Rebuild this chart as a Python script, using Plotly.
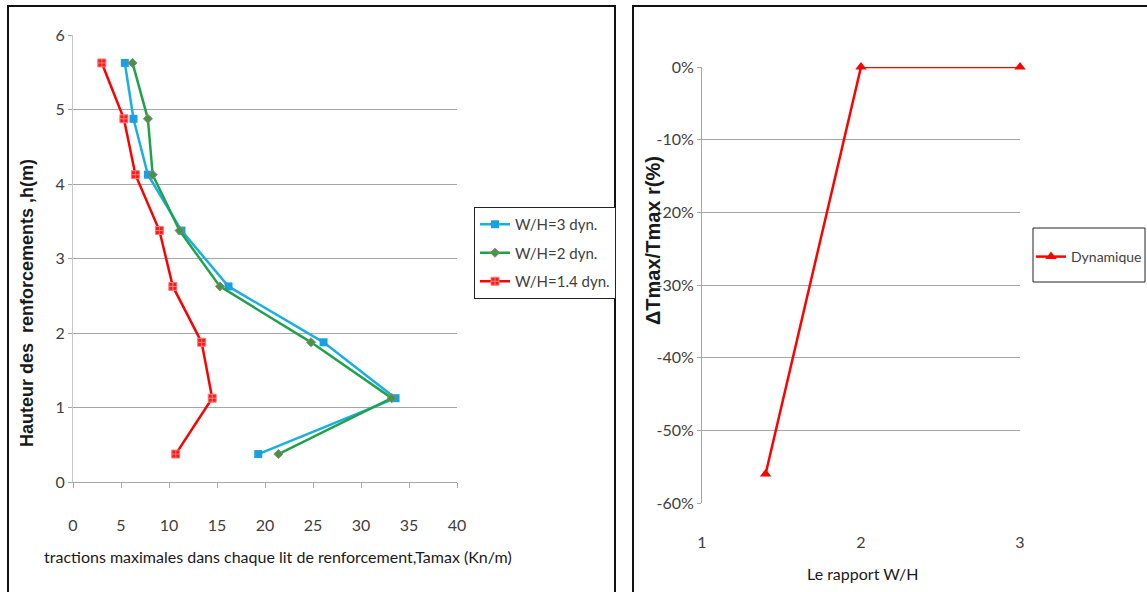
import plotly.graph_objects as go

W, H = 1147, 592

# ---- Data (left chart) ----
heights = [5.625, 4.875, 4.125, 3.375, 2.625, 1.875, 1.125, 0.375]
t_wh3 = [5.4, 6.3, 7.8, 11.3, 16.2, 26.1, 33.6, 19.3]
t_wh2 = [6.2, 7.8, 8.3, 11.1, 15.3, 24.8, 33.2, 21.4]
t_wh14 = [3.0, 5.3, 6.5, 9.0, 10.4, 13.4, 14.5, 10.7]
series_names = ["W/H=3 dyn.", "W/H=2 dyn.", "W/H=1.4 dyn."]
left_xticks = [0, 5, 10, 15, 20, 25, 30, 35, 40]
left_yticks = [0, 1, 2, 3, 4, 5, 6]

# ---- Data (right chart) ----
ratio_wh = [1.4, 2, 3]
delta_t = [-0.56, 0.0, 0.0]
right_xticks = [1, 2, 3]
right_yticks = [0.0, -0.1, -0.2, -0.3, -0.4, -0.5, -0.6]
right_yticktext = ["0%", "-10%", "-20%", "-30%", "-40%", "-50%", "-60%"]

NARROW = "Lato, Roboto, sans-serif"
BOLD = "Liberation Sans, Arial, sans-serif"
TXT = "#404040"
GRID = "#a6a6a6"

def px(x):
    return x / W

def py(y):
    return 1 - y / H

fig = go.Figure()

fig.add_trace(go.Scatter(
    x=t_wh3, y=heights, name=series_names[0], mode="lines+markers",
    line=dict(color="#1aaee8", width=2.5),
    marker=dict(symbol="square", size=8, color="#1aa0e0"),
    legendgroup="a", xaxis="x", yaxis="y", legend="legend", cliponaxis=False))
fig.add_trace(go.Scatter(
    x=t_wh2, y=heights, name=series_names[1], mode="lines+markers",
    line=dict(color="#1fa34a", width=2.5),
    marker=dict(symbol="diamond", size=7, color="#3a9a4a",
                line=dict(color="#b07a6a", width=1)),
    legendgroup="b", xaxis="x", yaxis="y", legend="legend", cliponaxis=False))
fig.add_trace(go.Scatter(
    x=t_wh14, y=heights, name=series_names[2], mode="lines+markers",
    line=dict(color="#ff0000", width=2.5),
    marker=dict(symbol="square-cross", size=8, color="#ff1a1a",
                line=dict(color="#f08080", width=1)),
    legendgroup="c", xaxis="x", yaxis="y", legend="legend", cliponaxis=False))

fig.add_trace(go.Scatter(
    x=ratio_wh, y=delta_t, name="Dynamique", mode="lines+markers",
    line=dict(color="#ff0000", width=2.5),
    marker=dict(symbol="triangle-up", size=10, color="#ff0000"),
    xaxis="x2", yaxis="y2", legend="legend2", cliponaxis=False))

fig.update_layout(
    width=W, height=H,
    margin=dict(l=0, r=0, t=0, b=0, autoexpand=False),
    paper_bgcolor="white", plot_bgcolor="white",
    font=dict(family=NARROW, size=15, color=TXT),
    xaxis=dict(domain=[px(73), px(457)], range=[0, 40], tickvals=left_xticks,
               showgrid=False, zeroline=False, showline=True, linecolor=GRID,
               ticks="outside", ticklen=5, tickcolor=GRID, automargin=False,
               ticklabelstandoff=24, tickfont=dict(size=16, family=NARROW, color=TXT),
               anchor="y", fixedrange=True),
    yaxis=dict(domain=[py(482), py(35)], range=[0, 6], tickvals=left_yticks,
               showgrid=True, gridcolor=GRID, gridwidth=1, zeroline=False,
               showline=True, linecolor="#c8c8c8", ticks="outside", ticklen=4,
               tickcolor=GRID, tickfont=dict(size=16, family=NARROW, color=TXT),
               automargin=False, anchor="x", fixedrange=True),
    xaxis2=dict(domain=[px(702), px(1020)], range=[1, 3], tickvals=right_xticks,
                showgrid=False, zeroline=False, showline=False, ticks="",
                automargin=False,
                ticklabelstandoff=28, tickfont=dict(size=16, family=NARROW, color=TXT),
                anchor="y2", fixedrange=True),
    yaxis2=dict(domain=[py(503), py(67)], range=[-0.6, 0.0], tickvals=right_yticks,
                ticktext=right_yticktext,
                showgrid=True, gridcolor=GRID, gridwidth=1, zeroline=False,
                showline=True, linecolor=GRID, ticks="outside", ticklen=4,
                tickcolor=GRID, tickfont=dict(size=16, family=NARROW, color=TXT),
                automargin=False, anchor="x2", fixedrange=True),
    legend=dict(x=px(474), y=py(207), xanchor="left", yanchor="top",
                bgcolor="white", bordercolor="#222", borderwidth=1,
                font=dict(size=15, family=NARROW, color=TXT),
                itemwidth=30, tracegroupgap=6),
    legend2=dict(x=px(1031), y=py(241), xanchor="left", yanchor="top",
                 bgcolor="rgba(0,0,0,0)", borderwidth=0,
                 font=dict(size=14, family=NARROW, color=TXT),
                 itemwidth=30),
    showlegend=True,
)

# Outer frames of the two charts
fig.add_shape(type="rect", xref="paper", yref="paper",
              x0=px(8), x1=px(615), y0=py(600), y1=py(6),
              line=dict(color="#111", width=2), fillcolor="rgba(0,0,0,0)", layer="below")
fig.add_shape(type="rect", xref="paper", yref="paper",
              x0=px(633), x1=px(1160), y0=py(600), y1=py(6),
              line=dict(color="#111", width=2), fillcolor="rgba(0,0,0,0)", layer="below")
# Box around the right legend
fig.add_shape(type="rect", xref="paper", yref="paper",
              x0=px(1033), x1=px(1145), y0=py(282), y1=py(228),
              line=dict(color="#222", width=1), fillcolor="rgba(0,0,0,0)", layer="below")

# Axis titles as annotations
fig.add_annotation(text="tractions maximales dans chaque lit de renforcement,Tamax (Kn/m)",
                   xref="paper", yref="paper", x=px(278), y=py(556),
                   xanchor="center", yanchor="middle",
                   showarrow=False, font=dict(size=16, family=NARROW, color="#1a1a1a"))
fig.add_annotation(text="<b>Hauteur des  renforcements ,h(m)</b>",
                   xref="paper", yref="paper", x=px(27), y=py(303), textangle=-90,
                   xanchor="center", yanchor="middle",
                   showarrow=False, font=dict(size=18, family=BOLD, color="#1a1a1a"))
fig.add_annotation(text="<b>ΔTmax/Tmax r(%)</b>",
                   xref="paper", yref="paper", x=px(653), y=py(240), textangle=-90,
                   xanchor="center", yanchor="middle",
                   showarrow=False, font=dict(size=20, family=BOLD, color="#1a1a1a"))
fig.add_annotation(text="Le rapport W/H",
                   xref="paper", yref="paper", x=px(863), y=py(573),
                   xanchor="center", yanchor="middle",
                   showarrow=False, font=dict(size=16, family=NARROW, color="#1a1a1a"))

fig.write_html("out.html",
               config={"displayModeBar": False},
               post_script="document.body.style.margin='0';document.body.style.overflow='hidden';")
